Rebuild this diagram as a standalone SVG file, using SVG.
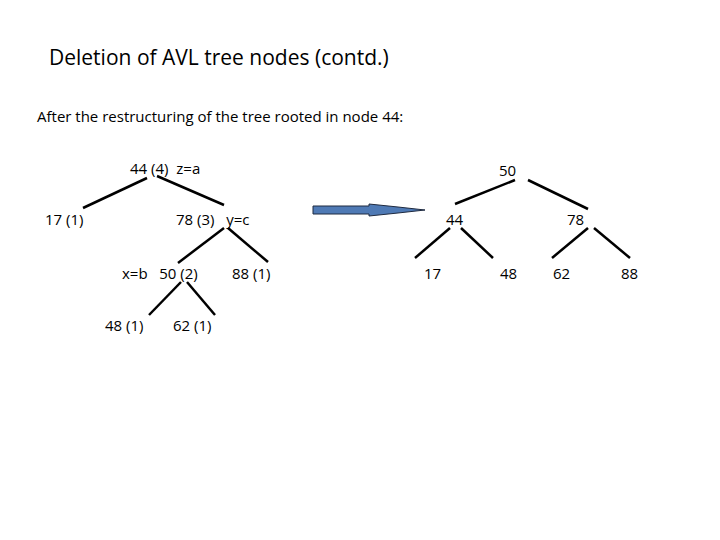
<svg xmlns="http://www.w3.org/2000/svg" width="720" height="540" viewBox="0 0 720 540">
<style>
text{font-family:"Open Sans","Liberation Sans",sans-serif;font-size:15px;fill:#000;white-space:pre}
.t{font-size:21px}
.c line{stroke:#000;stroke-width:2.5}
</style>
<rect width="720" height="540" fill="#fff"/>
<text class="t" x="49" y="65">Deletion of AVL tree nodes (contd.)</text>
<text x="37" y="122">After the restructuring of the tree rooted in node 44:</text>
<g class="c" id="connectors">
<line x1="147" y1="178" x2="83" y2="208"/>
<line x1="157" y1="176" x2="224" y2="205"/>
<line x1="224" y1="228" x2="178" y2="263"/>
<line x1="228" y1="228" x2="268" y2="262"/>
<line x1="181" y1="282" x2="149" y2="315"/>
<line x1="187" y1="282" x2="215" y2="315"/>
<line x1="515" y1="180" x2="455" y2="204"/>
<line x1="528" y1="180" x2="588" y2="209"/>
<line x1="450" y1="228" x2="415" y2="258"/>
<line x1="461" y1="228" x2="493" y2="258"/>
<line x1="588" y1="228" x2="552" y2="258"/>
<line x1="594" y1="228" x2="630" y2="258"/>
</g>
<g id="arrow"><path d="M313,206 L369,206 L369,204 L398,207 L425,210 L398,213 L369,216 L369,214 L313,214 Z" fill="#4f7ab5" stroke="#1f2a40" stroke-width="1"/></g>
<g id="n44"><text x="130" y="174" xml:space="preserve">44 (4)  z=a</text></g>
<g id="n17"><text x="45" y="225">17 (1)</text></g>
<g id="n78"><text x="176" y="225" xml:space="preserve">78 (3)   y=c</text></g>
<g id="n50"><text x="122" y="279" xml:space="preserve">x=b   50 (2)</text></g>
<g id="n88"><text x="232" y="279">88 (1)</text></g>
<g id="n48"><text x="105" y="331">48 (1)</text></g>
<g id="n62"><text x="173" y="331">62 (1)</text></g>
<g id="r50"><text x="499" y="176">50</text></g>
<g id="r44"><text x="446" y="225">44</text></g>
<g id="r78"><text x="567" y="225">78</text></g>
<g id="r17"><text x="424" y="279">17</text></g>
<g id="r48"><text x="500" y="279">48</text></g>
<g id="r62"><text x="553" y="279">62</text></g>
<g id="r88"><text x="621" y="279">88</text></g>
</svg>
